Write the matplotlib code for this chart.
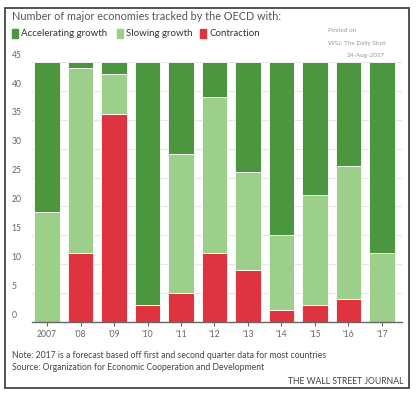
import matplotlib.pyplot as plt
from matplotlib.patches import Rectangle
import numpy as np

plt.rcParams['font.family'] = ['Lato', 'DejaVu Sans']

years = ['2007', "'08", "'09", "'10", "'11", "'12", "'13", "'14", "'15", "'16", "'17"]
contraction = [0, 12, 36, 3, 5, 12, 9, 2, 3, 4, 0]
slowing = [19, 32, 7, 0, 24, 27, 17, 13, 19, 23, 12]
accelerating = [26, 1, 2, 42, 16, 6, 19, 30, 23, 18, 33]

C_ACC = '#4b963f'
C_SLOW = '#9ccf89'
C_CON = '#df3440'
GRAY = '#666666'

W, H = 416, 398
fig = plt.figure(figsize=(W / 100, H / 100), dpi=100)
ax = fig.add_axes([32 / W, 1 - 322 / H, 370 / W, 260 / H])

x = np.arange(len(years))
con = np.array(contraction)
slow = np.array(slowing)
acc = np.array(accelerating)
kw = dict(width=0.76, edgecolor='white', linewidth=0.6, zorder=3)
ax.bar(x, con, color=C_CON, **kw)
ax.bar(x, slow, bottom=con, color=C_SLOW, **kw)
ax.bar(x, acc, bottom=con + slow, color=C_ACC, **kw)

ax.set_xlim(-0.45, len(years) - 0.4)
ax.set_ylim(0, 45)
ax.set_yticks(range(0, 46, 5))
ax.set_yticklabels([])
ax.tick_params(axis='y', length=0)
ax.grid(axis='y', color='#e6e6e6', linewidth=0.8, zorder=0)
for v in range(0, 46, 5):
    ax.text(-0.055, v + 0.4, str(v), transform=ax.get_yaxis_transform(),
            ha='left', va='bottom', fontsize=6.2, color=GRAY)

ax.set_xticks(x)
ax.set_xticklabels(years, fontsize=6.2, color=GRAY)
ax.tick_params(axis='x', length=3, color=GRAY, pad=3)
for s in ['top', 'right', 'left']:
    ax.spines[s].set_visible(False)
ax.spines['bottom'].set_color(GRAY)
ax.spines['bottom'].set_linewidth(1.0)
ax.spines['bottom'].set_zorder(4)

# frame
fig.patches.append(Rectangle((5 / W, 1 - 388 / H), 404 / W, 380 / H,
                             transform=fig.transFigure, fill=False,
                             edgecolor='#444444', linewidth=1.3))

fig.text(12 / W, 1 - 16 / H, 'Number of major economies tracked by the OECD with:',
         fontsize=7.8, color='#555555', va='center', ha='left')

legend = [('Accelerating growth', C_ACC, 12), ('Slowing growth', C_SLOW, 117),
          ('Contraction', C_CON, 200)]
for label, c, px in legend:
    fig.patches.append(Rectangle((px / W, 1 - 38 / H), 6 / W, 9 / H,
                                 transform=fig.transFigure, color=c))
    fig.text((px + 9) / W, 1 - 33.5 / H, label, fontsize=7.0, color='#333333',
             va='center', ha='left')

fig.text(328 / W, 1 - 30 / H, 'Posted on', fontsize=4.6, color='#999999', va='center')
fig.text(328 / W, 1 - 43 / H, 'WSJ: The Daily Shot', fontsize=4.6, color='#999999', va='center')
fig.text(385 / W, 1 - 55 / H, '24-Aug-2017', fontsize=4.6, color='#999999', va='center', ha='right')

fig.text(12 / W, 1 - 356 / H,
         'Note: 2017 is a forecast based off first and second quarter data for most countries',
         fontsize=6.2, color='#444444', va='center')
fig.text(12 / W, 1 - 368 / H, 'Source: Organization for Economic Cooperation and Development',
         fontsize=6.2, color='#444444', va='center')
fig.text(403 / W, 1 - 381 / H, 'THE WALL STREET JOURNAL', fontsize=6.2, color='#444444',
         va='center', ha='right')

fig.savefig('out.png', dpi=100, facecolor='white')
